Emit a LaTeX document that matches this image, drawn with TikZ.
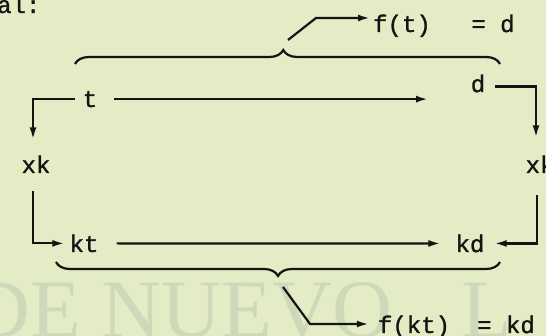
\documentclass[tikz,border=0pt]{standalone}
\usepackage{fontspec}
\newfontfamily\tw{Liberation Mono}[FakeBold=1.2]
\newfontfamily\wm{Liberation Serif}
\usetikzlibrary{arrows.meta,decorations.pathreplacing}
\definecolor{paper}{RGB}{228,236,198}
\definecolor{stamp}{RGB}{208,216,186}
\definecolor{ink}{RGB}{20,20,20}

\begin{document}
\begin{tikzpicture}[x=1pt, y=-1pt, >={Latex[length=12pt,width=7pt]},
	lab/.style={font=\tw\fontsize{24}{28}\selectfont, text=ink, inner sep=0pt, anchor=base},
	arr/.style={->, draw=ink, line width=2.2pt},
	brc/.style={draw=ink, line width=2.2pt, decorate, decoration={brace, amplitude=14pt, aspect=#1}},
	wmark/.style={font=\wm\fontsize{83}{83}\selectfont, text=stamp, anchor=base west, inner sep=0pt}]
	\fill[paper] (0,0) rectangle (546,336);
	\useasboundingbox (0,0) rectangle (546,336);
	\begin{scope}
		\clip (0,0) rectangle (546,336);
		\node[wmark] (stampa) at (-30,338) {DE NUEVO};
		\node[wmark] (stampb) at (461,338) {L};
	\end{scope}
	% the values
	\node[lab, anchor=base west] (al) at (-3,13) {al:};
	\node[lab] (t) at (90,107) {t};
	\node[lab] (d) at (478,92) {d};
	\node[lab] (xkl) at (36,173) {xk};
	\node[lab] (xkr) at (540,173) {xk};
	\node[lab] (kt) at (84,252) {kt};
	\node[lab] (kd) at (470,252) {kd};
	\node[lab] (ft) at (402,32) {f(t)};
	\node[lab] (eqd) at (493,32) {= d};
	\node[lab] (fkt) at (414,333) {f(kt)};
	\node[lab] (eqkd) at (506,333) {= kd};
	% upper row
	\coordinate (tEnd) at (428,0);
	\draw[arr, shorten <=17pt] (t.east) -- (t.east -| tEnd);
	\draw[arr, shorten <=8pt, shorten >=16pt] (t.west) -| ([xshift=-3pt]xkl.north);
	\draw[arr, shorten <=10pt, shorten >=18pt] ([yshift=-3pt]d.east) -| ([xshift=-4pt]xkr.north);
	% lower row
	\draw[arr, shorten <=18pt, shorten >=5pt] ([xshift=-3pt]xkl.south) |- (kt.west);
	\draw[arr, shorten <=18pt, shorten >=15pt] (kt.east) -- (kd.west);
	\draw[arr, shorten <=22pt, shorten >=10pt] ([xshift=-3pt]xkr.south) |- (kd.east);
	% braces and the results
	\draw[brc=0.49] (75,64) -- (500,64);
	\draw[brc=0.5, decoration={mirror}] (56,262) -- (500,262);
	\coordinate (tipT) at (288,40);
	\coordinate (kneeT) at (316,18);
	\draw[arr, shorten >=3pt] (tipT) -- (kneeT) -- (kneeT -| ft.west);
	\coordinate (tipB) at (283,287);
	\coordinate (kneeB) at (310,324);
	\draw[arr, shorten >=9pt] (tipB) -- (kneeB) -- (kneeB -| fkt.west);
\end{tikzpicture}
\end{document}
